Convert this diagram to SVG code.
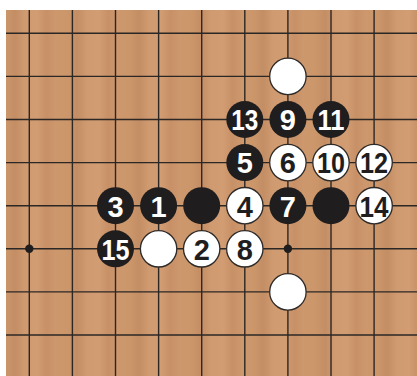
<svg xmlns="http://www.w3.org/2000/svg" width="417" height="376" viewBox="0 0 417 376">
<defs>
<linearGradient id="wood" x1="0" y1="0" x2="1" y2="0" spreadMethod="repeat">
<stop offset="0" stop-color="#c99468"/>
<stop offset="0.15" stop-color="#bd8760"/>
<stop offset="0.3" stop-color="#cf9a70"/>
<stop offset="0.5" stop-color="#d39e74"/>
<stop offset="0.65" stop-color="#c28b63"/>
<stop offset="0.8" stop-color="#cc966c"/>
<stop offset="1" stop-color="#c99468"/>
</linearGradient>
<pattern id="woodpat" x="6" y="0" width="62" height="376" patternUnits="userSpaceOnUse">
<rect width="62" height="376" fill="url(#wood)"/>
</pattern>
<style>
.grid line{stroke:#2b2724;stroke-width:1.4}
.b{fill:#1f1d1d}
.w{fill:#ffffff;stroke:#2e2a28;stroke-width:1.3}
.star{fill:#1f1d1d}
text{font-family:"Liberation Sans",Arial,sans-serif;font-weight:bold;font-size:29px;text-anchor:middle}
.tb{fill:#ffffff}
.tw{fill:#1f1d1d}
</style>
</defs>
<rect width="417" height="376" fill="#ffffff"/>
<rect x="6" y="10" width="411" height="366" fill="url(#woodpat)"/>
<rect x="6" y="10" width="411" height="366" fill="#d09a70" opacity="0.35"/>
<g id="grid" class="grid">
<line x1="29.3" y1="10" x2="29.3" y2="376"/>
<line x1="72.4" y1="10" x2="72.4" y2="376"/>
<line x1="115.5" y1="10" x2="115.5" y2="376"/>
<line x1="158.6" y1="10" x2="158.6" y2="376"/>
<line x1="201.7" y1="10" x2="201.7" y2="376"/>
<line x1="244.8" y1="10" x2="244.8" y2="376"/>
<line x1="287.9" y1="10" x2="287.9" y2="376"/>
<line x1="331" y1="10" x2="331" y2="376"/>
<line x1="374.1" y1="10" x2="374.1" y2="376"/>
<line x1="6" y1="33.3" x2="417" y2="33.3"/>
<line x1="6" y1="76.4" x2="417" y2="76.4"/>
<line x1="6" y1="119.5" x2="417" y2="119.5"/>
<line x1="6" y1="162.6" x2="417" y2="162.6"/>
<line x1="6" y1="205.7" x2="417" y2="205.7"/>
<line x1="6" y1="248.8" x2="417" y2="248.8"/>
<line x1="6" y1="291.9" x2="417" y2="291.9"/>
<line x1="6" y1="335" x2="417" y2="335"/>
</g>
<g id="starpoints">
<circle class="star" cx="29.3" cy="248.8" r="4.2"/>
<circle class="star" cx="287.9" cy="248.8" r="4.2"/>
</g>
<g id="w-top"><circle class="w" cx="287.9" cy="76.4" r="18.2"/></g>
<g id="b13"><circle class="b" cx="244.8" cy="119.5" r="18.5"/><text class="tb" x="244.8" y="130.3" textLength="27" lengthAdjust="spacingAndGlyphs">13</text></g>
<g id="b9"><circle class="b" cx="287.9" cy="119.5" r="18.5"/><text class="tb" x="287.9" y="130.3">9</text></g>
<g id="b11"><circle class="b" cx="331" cy="119.5" r="18.5"/><text class="tb" x="331" y="130.3" textLength="27" lengthAdjust="spacingAndGlyphs">11</text></g>
<g id="b5"><circle class="b" cx="244.8" cy="162.6" r="18.5"/><text class="tb" x="244.8" y="173.4">5</text></g>
<g id="w6"><circle class="w" cx="287.9" cy="162.6" r="18.2"/><text class="tw" x="287.9" y="173.4">6</text></g>
<g id="w10"><circle class="w" cx="331" cy="162.6" r="18.2"/><text class="tw" x="331" y="173.4" textLength="28" lengthAdjust="spacingAndGlyphs">10</text></g>
<g id="w12"><circle class="w" cx="374.1" cy="162.6" r="18.2"/><text class="tw" x="374.1" y="173.4" textLength="28" lengthAdjust="spacingAndGlyphs">12</text></g>
<g id="b3"><circle class="b" cx="115.5" cy="205.7" r="18.5"/><text class="tb" x="115.5" y="216.5">3</text></g>
<g id="b1"><circle class="b" cx="158.6" cy="205.7" r="18.5"/><text class="tb" x="158.6" y="216.5">1</text></g>
<g id="b-mid"><circle class="b" cx="201.7" cy="205.7" r="18.5"/></g>
<g id="w4"><circle class="w" cx="244.8" cy="205.7" r="18.2"/><text class="tw" x="244.8" y="216.5">4</text></g>
<g id="b7"><circle class="b" cx="287.9" cy="205.7" r="18.5"/><text class="tb" x="287.9" y="216.5">7</text></g>
<g id="b-right"><circle class="b" cx="331" cy="205.7" r="18.5"/></g>
<g id="w14"><circle class="w" cx="374.1" cy="205.7" r="18.2"/><text class="tw" x="374.1" y="216.5" textLength="29" lengthAdjust="spacingAndGlyphs">14</text></g>
<g id="b15"><circle class="b" cx="115.5" cy="248.8" r="18.5"/><text class="tb" x="115.5" y="259.6" textLength="28" lengthAdjust="spacingAndGlyphs">15</text></g>
<g id="w-mid"><circle class="w" cx="158.6" cy="248.8" r="18.2"/></g>
<g id="w2"><circle class="w" cx="201.7" cy="248.8" r="18.2"/><text class="tw" x="201.7" y="259.6">2</text></g>
<g id="w8"><circle class="w" cx="244.8" cy="248.8" r="18.2"/><text class="tw" x="244.8" y="259.6">8</text></g>
<g id="w-bottom"><circle class="w" cx="287.9" cy="291.9" r="18.2"/></g>
</svg>
